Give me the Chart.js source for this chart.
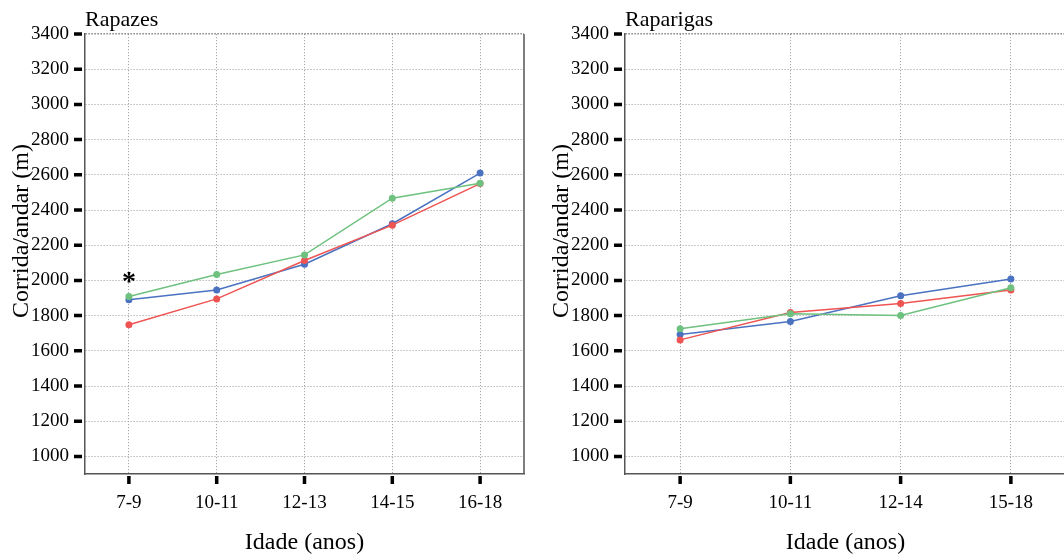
<!DOCTYPE html>
<html><head><meta charset="utf-8">
<script src="https://cdn.jsdelivr.net/npm/chart.js@4"></script>
<style>
html,body{margin:0;padding:0;background:#fff;overflow:hidden;width:1064px;height:558px;}
.panel{position:absolute;top:0;height:558px;}
</style></head><body>
<div class="panel" style="left:0;width:540px"><canvas id="c1"></canvas></div>
<div class="panel" style="left:540px;width:542px"><canvas id="c2"></canvas></div>
<script>
// ---- data ----
const boysAges = ['7-9', '10-11', '12-13', '14-15', '16-18'];
const boysBlue = [1890, 1945, 2092, 2322, 2610];
const boysRed = [1748, 1895, 2113, 2314, 2550];
const boysGreen = [1908, 2034, 2145, 2467, 2552];

const girlsAges = ['7-9', '10-11', '12-14', '15-18'];
const girlsBlue = [1693, 1766, 1913, 2008];
const girlsRed = [1662, 1817, 1869, 1945];
const girlsGreen = [1725, 1810, 1800, 1958];

const yTicks = [1000, 1200, 1400, 1600, 1800, 2000, 2200, 2400, 2600, 2800, 3000, 3200, 3400];
const boysMarks = [{ category: '7-9', value: 2000, text: '*' }];
const girlsMarks = [];

// ---- style ----
const FONT = "'Liberation Serif', 'Times New Roman', serif";
const BLUE = '#4A72C1', RED = '#EE5452', GREEN = '#6EC17E';
const GRID = '#a8a8a8';

function makeDatasets(blue, red, green) {
  const ds = (label, data, color) => ({
    label, data, borderColor: color, backgroundColor: color,
    borderWidth: 1.5, pointRadius: 3.5, pointHoverRadius: 3.5,
    pointBorderWidth: 0, tension: 0, fill: false
  });
  return [ds('Grupo C', green, GREEN), ds('Grupo B', red, RED), ds('Grupo A', blue, BLUE)];
}

function decorPlugin(title, marks) {
  return {
    id: 'decor',
    afterDraw(chart) {
      const { ctx, chartArea: a, scales } = chart;
      ctx.save();
      // right border
      ctx.strokeStyle = '#555';
      ctx.lineWidth = 1.5;
      ctx.beginPath();
      ctx.moveTo(a.right, a.top);
      ctx.lineTo(a.right, a.bottom);
      ctx.stroke();
      // thick tick marks
      ctx.strokeStyle = '#000';
      ctx.lineWidth = 3.5;
      ctx.beginPath();
      scales.y.ticks.forEach(t => {
        const y = scales.y.getPixelForValue(t.value);
        ctx.moveTo(a.left - 11, y);
        ctx.lineTo(a.left - 3, y);
      });
      scales.x.ticks.forEach((t, i) => {
        const x = scales.x.getPixelForValue(i);
        ctx.moveTo(x, a.bottom + 2);
        ctx.lineTo(x, a.bottom + 10);
      });
      ctx.stroke();
      // panel title
      ctx.fillStyle = '#000';
      ctx.font = '22px ' + FONT;
      ctx.textAlign = 'left';
      ctx.textBaseline = 'alphabetic';
      ctx.fillText(title, a.left, 26);
      // x title
      ctx.font = '24px ' + FONT;
      ctx.textAlign = 'center';
      ctx.textBaseline = 'middle';
      ctx.fillText('Idade (anos)', (a.left + a.right) / 2, 543);
      // y title
      ctx.save();
      ctx.translate(22, 231);
      ctx.rotate(-Math.PI / 2);
      ctx.fillText('Corrida/andar (m)', 0, 0);
      ctx.restore();
      // annotations
      ctx.font = 'bold 28px ' + FONT;
      marks.forEach(m => {
        const x = scales.x.getPixelForValue(scales.x.getLabels().indexOf(m.category));
        const y = scales.y.getPixelForValue(m.value);
        ctx.fillText(m.text, x, y + 2);
      });
      ctx.restore();
    }
  };
}

function makeChart(id, labels, blue, red, green, title, marks) {
  return new Chart(document.getElementById(id), {
    type: 'line',
    data: { labels, datasets: makeDatasets(blue, red, green) },
    plugins: [decorPlugin(title, marks)],
    options: {
      responsive: true, maintainAspectRatio: false, animation: false,
      layout: { padding: { top: 34, right: 16, left: 0, bottom: 0 } },
      plugins: { legend: { display: false }, tooltip: { enabled: false }, title: { display: false } },
      scales: {
        x: {
          type: 'category', offset: true,
          grid: { offset: false, color: GRID, lineWidth: 1, tickColor: 'rgba(0,0,0,0)', tickLength: 10 },
          border: { display: true, color: '#555', width: 1.5, dash: [1.2, 1.8] },
          ticks: { color: '#000', font: { family: FONT, size: 19 }, padding: 8, maxRotation: 0 },
          afterFit(s) { s.height = 84; }
        },
        y: {
          min: 900, max: 3400,
          afterBuildTicks(s) { s.ticks = yTicks.map(v => ({ value: v })); },
          grid: {
            color: c => (c.tick && c.tick.value === 3400) ? '#666' : GRID,
            lineWidth: c => (c.tick && c.tick.value === 3400) ? 1.5 : 1,
            tickColor: 'rgba(0,0,0,0)', tickLength: 11
          },
          border: { display: true, color: '#555', width: 1.5, dash: [1.2, 1.8] },
          ticks: { color: '#000', font: { family: FONT, size: 19 }, padding: 5, callback: v => String(v) },
          afterFit(s) { s.width = 85; }
        }
      }
    }
  });
}

makeChart('c1', boysAges, boysBlue, boysRed, boysGreen, 'Rapazes', boysMarks);
makeChart('c2', girlsAges, girlsBlue, girlsRed, girlsGreen, 'Raparigas', girlsMarks);
</script>
</body></html>
